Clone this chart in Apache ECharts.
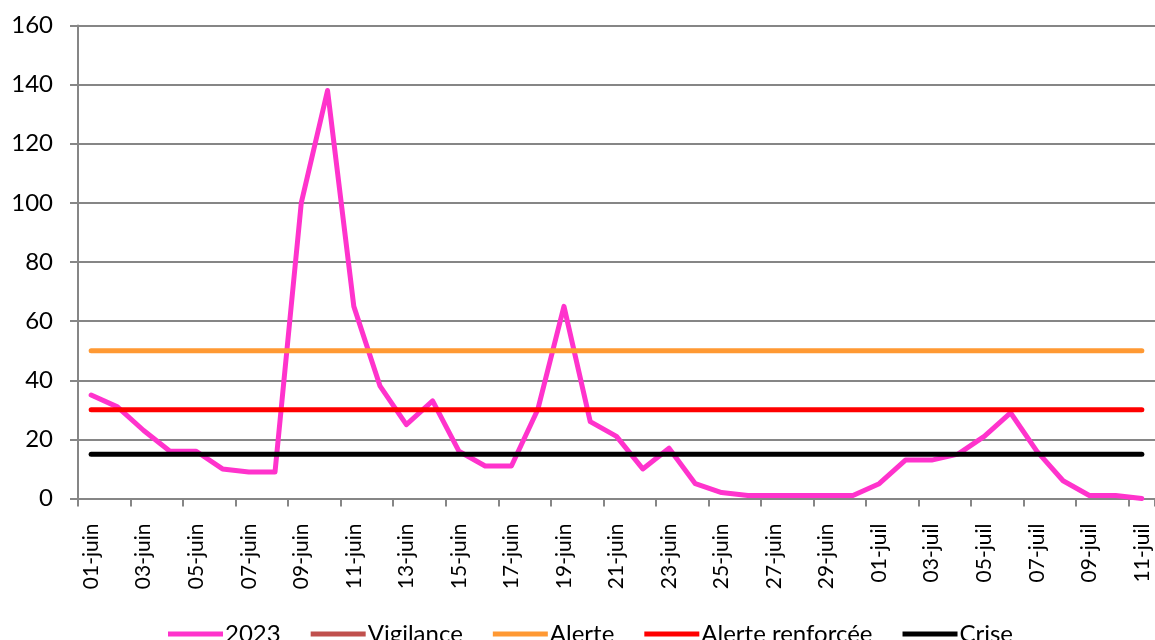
<!DOCTYPE html>
<html>
<head>
<meta charset="utf-8">
<script src="https://cdn.jsdelivr.net/npm/echarts@6/dist/echarts.min.js"></script>
<style>
html,body{margin:0;padding:0;background:#fff;}
#c{width:1155px;height:640px;}
</style>
</head>
<body>
<div id="c"></div>
<script>
const categories = [
  '01-juin','02-juin','03-juin','04-juin','05-juin','06-juin','07-juin','08-juin','09-juin','10-juin',
  '11-juin','12-juin','13-juin','14-juin','15-juin','16-juin','17-juin','18-juin','19-juin','20-juin',
  '21-juin','22-juin','23-juin','24-juin','25-juin','26-juin','27-juin','28-juin','29-juin','30-juin',
  '01-juil','02-juil','03-juil','04-juil','05-juil','06-juil','07-juil','08-juil','09-juil','10-juil','11-juil'
];
const values2023 = [35,31,23,16,16,10,9,9,100,138,65,38,25,33,16,11,11,30,65,26,21,10,17,5,2,1,1,1,1,1,5,13,13,15,21,29,16,6,1,1,0];
const vigilance = [];
const alerteLevel = 50;
const alerteRenforceeLevel = 30;
const criseLevel = 15;
const yTicks = { min: 0, max: 160, interval: 20 };

const alerte = categories.map(() => alerteLevel);
const alerteRenforcee = categories.map(() => alerteRenforceeLevel);
const crise = categories.map(() => criseLevel);

const FONT = 'Lato';
const chart = echarts.init(document.getElementById('c'), null, { renderer: 'canvas' });

function lineSeries(name, data, color) {
  return {
    name: name, type: 'line', data: data, symbol: 'none', showSymbol: false,
    lineStyle: { color: color, width: 5, cap: 'round', join: 'round' },
    itemStyle: { color: color },
    emphasis: { disabled: true },
    animation: false
  };
}

chart.setOption({
  animation: false,
  backgroundColor: '#fff',
  textStyle: { fontFamily: FONT },
  grid: { left: 78, top: 25.5, width: 1085, height: 473, containLabel: false },
  legend: {
    left: 163, top: 617,
    icon: 'rect', itemWidth: 55, itemHeight: 5, itemGap: 30,
    textStyle: { fontFamily: FONT, fontSize: 24, color: '#000', padding: [0, 0, 0, -3] },
    data: ['2023', 'Vigilance', 'Alerte', 'Alerte renforcée', 'Crise']
  },
  xAxis: {
    type: 'category', data: categories, boundaryGap: true,
    axisLine: { show: true, lineStyle: { color: '#868686', width: 2 } },
    axisTick: { show: true, interval: 1, length: 8, lineStyle: { color: '#868686', width: 2 } },
    axisLabel: { interval: 1, rotate: 90, margin: 25, fontFamily: FONT, fontSize: 21, color: '#000' },
    splitLine: { show: false }
  },
  yAxis: {
    type: 'value', min: yTicks.min, max: yTicks.max, interval: yTicks.interval,
    axisLine: { show: true, lineStyle: { color: '#868686', width: 2 } },
    axisTick: { show: true, length: 8, lineStyle: { color: '#868686', width: 2 } },
    axisLabel: { margin: 25, fontFamily: FONT, fontSize: 24, color: '#000' },
    splitLine: { show: true, lineStyle: { color: '#868686', width: 2 } }
  },
  series: [
    lineSeries('2023', values2023, '#FF33CC'),
    lineSeries('Vigilance', vigilance, '#C0504D'),
    lineSeries('Alerte', alerte, '#FF9933'),
    lineSeries('Alerte renforcée', alerteRenforcee, '#FF0000'),
    lineSeries('Crise', crise, '#000000')
  ]
});
</script>
</body>
</html>
